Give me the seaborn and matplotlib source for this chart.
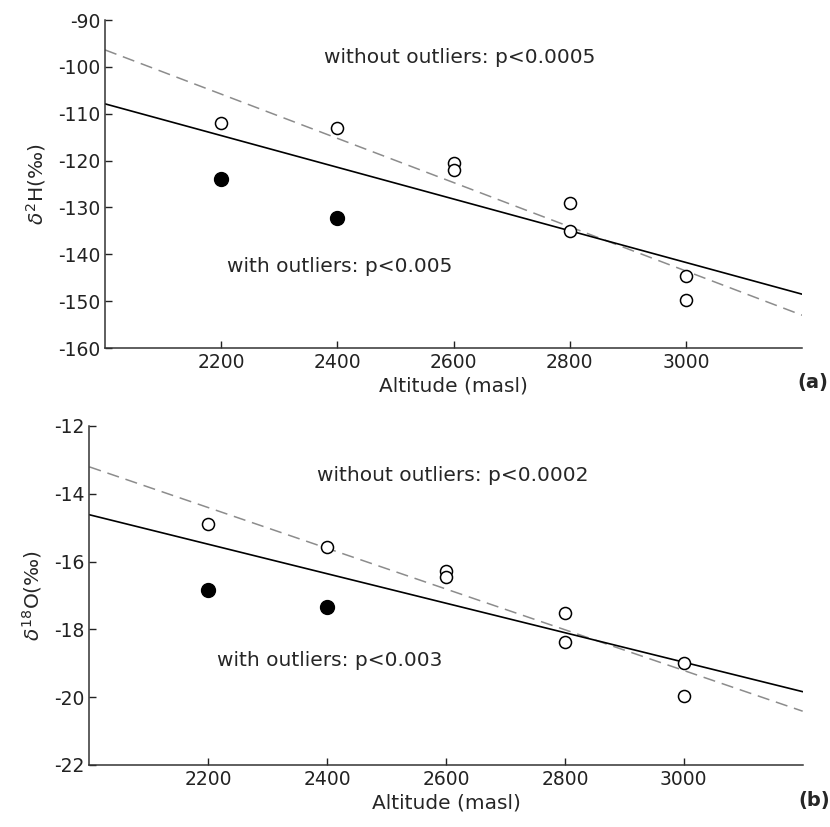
import numpy as np
import pandas as pd
import seaborn as sns
import matplotlib.pyplot as plt

# altitude of the sampling points (masl)
alt_open = [2200, 2400, 2600, 2600, 2800, 2800, 3000, 3000]
alt_out = [2200, 2400]

# delta 2H values (permil)
d2h_open = [-112, -113, -120.5, -122, -129, -135, -144.6, -149.7]
d2h_out = [-124, -132.2]

# delta 18O values (permil)
d18o_open = [-14.9, -15.58, -16.28, -16.45, -17.53, -18.38, -19.0, -19.96]
d18o_out = [-16.85, -17.35]

sns.set_style("ticks")
plt.rcParams['font.family'] = ['DejaVu Sans']
plt.rcParams['axes.unicode_minus'] = False
plt.rcParams['mathtext.fontset'] = 'dejavusans'

fig = plt.figure(figsize=(8.3, 8.27), dpi=100)
ax1 = fig.add_axes([0.1265, 0.5792, 0.8398, 0.3966])
ax2 = fig.add_axes([0.1076, 0.0750, 0.8595, 0.4099])

panels = [
    (ax1, d2h_open, d2h_out, (-160, -90), np.arange(-160, -89, 10),
     r'$\delta^{2}$H(‰)', "without outliers: p<0.0005", "with outliers: p<0.005", "(a)",
     (-97.9, -142.7)),
    (ax2, d18o_open, d18o_out, (-22, -12), np.arange(-22, -11, 2),
     r'$\delta^{18}$O(‰)', "without outliers: p<0.0002", "with outliers: p<0.003", "(b)",
     (-13.45, -18.93)),
]

for ax, y_open, y_out, ylim, yticks, ylab, txt_wo, txt_w, tag, txt_y in panels:
    ax.set_xlim(2000, 3200)
    ax.set_ylim(*ylim)

    df_open = pd.DataFrame({"alt": alt_open, "val": y_open})
    df_all = pd.DataFrame({"alt": alt_open + alt_out, "val": y_open + y_out})

    # fit lines across the full x range
    sns.regplot(x="alt", y="val", data=df_open, ax=ax, scatter=False, ci=None,
                truncate=False, color="#8c8c8c",
                line_kws=dict(lw=1.1, ls=(0, (8, 4.5))))
    sns.regplot(x="alt", y="val", data=df_all, ax=ax, scatter=False, ci=None,
                truncate=False, color="black", line_kws=dict(lw=1.2))

    ax.scatter(alt_open, y_open, s=75, facecolors="white", edgecolors="black",
               linewidths=1.1, zorder=3)
    ax.scatter(alt_out, y_out, s=100, facecolors="black", edgecolors="black",
               zorder=3)

    ax.set_xlim(2000, 3200)
    ax.set_ylim(*ylim)
    ax.set_xticks([2200, 2400, 2600, 2800, 3000])
    ax.set_yticks(yticks)
    ax.tick_params(direction="in", length=5, width=1, labelsize=13.5, colors="#222222")
    for s in ["left", "bottom"]:
        ax.spines[s].set_linewidth(1.1)
        ax.spines[s].set_color("#333333")
    sns.despine(ax=ax)

    ax.set_xlabel("Altitude (masl)", fontsize=14.5, labelpad=3)
    ax.set_ylabel(ylab, fontsize=14.5, labelpad=7)

    ax.text(2611, txt_y[0], txt_wo, fontsize=14.5, ha="center", va="center")
    ax.text(2404, txt_y[1], txt_w, fontsize=14.5, ha="center", va="center")
    ax.text(1.016, -0.105, tag, transform=ax.transAxes, fontsize=14, fontweight="bold",
            ha="center", va="center")

fig.savefig("out.png", dpi=100)
